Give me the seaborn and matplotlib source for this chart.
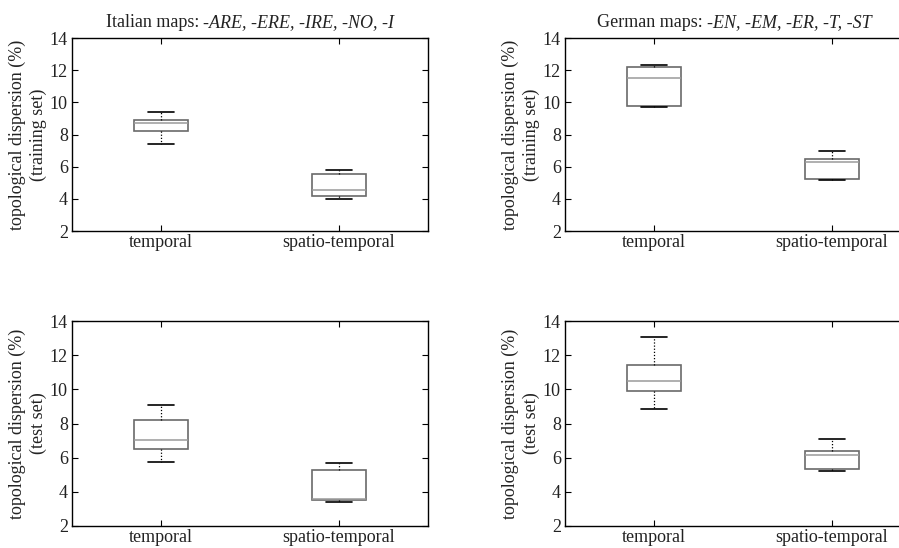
import numpy as np
import pandas as pd
import matplotlib
matplotlib.use("Agg")
import matplotlib.pyplot as plt
import seaborn as sns

# ---- data: five-number summaries (min, q1, median, q3, max)
methods = ["temporal", "spatio-temporal"]

it_train_temporal = [7.42, 8.20, 8.70, 8.88, 9.40]
it_train_spatio = [4.00, 4.15, 4.58, 5.55, 5.80]
de_train_temporal = [9.72, 9.80, 11.50, 12.20, 12.33]
de_train_spatio = [5.14, 5.25, 6.29, 6.48, 7.00]

it_test_temporal = [5.77, 6.53, 7.01, 8.21, 9.10]
it_test_spatio = [3.39, 3.50, 3.60, 5.28, 5.71]
de_test_temporal = [8.83, 9.90, 10.47, 11.44, 13.06]
de_test_spatio = [5.20, 5.32, 6.14, 6.41, 7.09]

yticks = [2, 4, 6, 8, 10, 12, 14]
title_it_plain = "Italian maps: "
title_it_ital = "-ARE, -ERE, -IRE, -NO, -I"
title_de_plain = "German maps: "
title_de_ital = "-EN, -EM, -ER, -T, -ST"
ylabel_train = "topological dispersion (%)\n(training set)"
ylabel_test = "topological dispersion (%)\n(test set)"

sns.set_theme(style="white")
FONT = ["Liberation Serif", "DejaVu Serif"]
plt.rcParams["font.family"] = FONT

W, H = 899, 548
fig = plt.figure(figsize=(W / 100, H / 100), dpi=100)

def px_axes(left, top, right, bottom):
    return fig.add_axes([left / W, 1 - bottom / H, (right - left) / W, (bottom - top) / H])

axes = {
    "tl": px_axes(72, 38, 428, 231),
    "tr": px_axes(565, 38, 921, 231),
    "bl": px_axes(72, 321, 428, 526),
    "br": px_axes(565, 321, 921, 526),
}

panels = [
    ("tl", it_train_temporal, it_train_spatio, ylabel_train),
    ("tr", de_train_temporal, de_train_spatio, ylabel_train),
    ("bl", it_test_temporal, it_test_spatio, ylabel_test),
    ("br", de_test_temporal, de_test_spatio, ylabel_test),
]

for key, tvals, svals, ylab in panels:
    ax = axes[key]
    df = pd.DataFrame({
        "method": [methods[0]] * len(tvals) + [methods[1]] * len(svals),
        "value": list(tvals) + list(svals),
    })
    sns.boxplot(
        data=df, x="method", y="value", order=methods, ax=ax,
        width=0.3, whis=(0, 100), fliersize=0,
        color="white", linecolor="#6a6a6a", linewidth=1.1,
        boxprops=dict(facecolor="white", edgecolor="#6a6a6a", linewidth=1.2),
        medianprops=dict(color="#9a9a9a", linewidth=1.1),
        whiskerprops=dict(color="black", linestyle=(0, (1, 1.5)), linewidth=0.9),
        capprops=dict(color="black", linewidth=1.2),
    )
    ax.set_xlim(-0.5, 1.5)
    ax.set_ylim(2, 14)
    ax.set_yticks(yticks)
    ax.set_yticklabels([str(v) for v in yticks])
    ax.set_xlabel("")
    ax.set_ylabel(ylab, fontsize=13, linespacing=1.3, labelpad=2, color="#222222")
    for s in ax.spines.values():
        s.set_visible(True)
        s.set_color("black")
        s.set_linewidth(1.0)
    ax.tick_params(axis="both", direction="in", length=4, width=0.8, color="black",
                   top=True, right=True, bottom=True, left=True)
    ax.tick_params(axis="y", labelsize=13, pad=3, labelcolor="#222222")
    ax.tick_params(axis="x", labelsize=13, pad=2, labelcolor="#222222")
    ax.set_facecolor("white")

# titles with mixed upright / italic text
def mixed_title(ax, plain, ital):
    t1 = ax.annotate(plain, xy=(0.5, 1.0), xycoords="axes fraction",
                     xytext=(0, 7), textcoords="offset pixels",
                     ha="left", va="bottom", fontsize=13, color="#222222")
    t2 = ax.annotate(ital, xy=(1.0, 0.0), xycoords=t1, ha="left", va="bottom",
                     fontsize=13, style="italic", color="#222222")
    return t1, t2

titles_it = mixed_title(axes["tl"], title_it_plain, title_it_ital)
titles_de = mixed_title(axes["tr"], title_de_plain, title_de_ital)

fig.canvas.draw()
r = fig.canvas.get_renderer()
for (t1, t2), cx in [(titles_it, 250), (titles_de, 734)]:
    w = t1.get_window_extent(r).width + t2.get_window_extent(r).width
    ax = t1.axes
    x0 = ax.get_window_extent(r).x0 + ax.get_window_extent(r).width / 2
    t1.set_position((cx - x0 - w / 2, 7))

fig.savefig("out.png", dpi=100, facecolor="white")
